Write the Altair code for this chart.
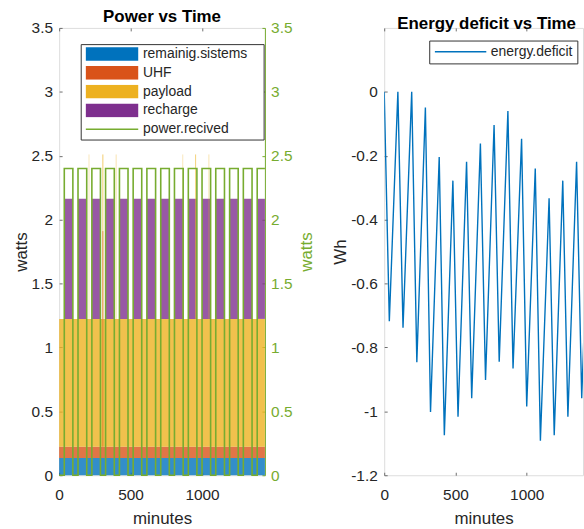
import altair as alt
import pandas as pd

# ---------------- data ----------------
series_names = ["remainig.sistems", "UHF", "payload", "recharge"]
series_watts = [0.135, 0.088, 1.0, 0.94]
series_colors = ["#0072BD", "#D95319", "#EDB120", "#7E2F8E"]

# eclipse intervals (power.recived = 0), minutes
eclipse_start = [0, 96, 193, 289, 386, 482, 578, 675, 771, 868, 964, 1060, 1157, 1253, 1350]
eclipse_end = [36, 132, 229, 325, 422, 518, 614, 711, 807, 904, 1000, 1096, 1193, 1289, 1386]
power_sun = 2.4
power_eclipse = 0.0
t_last = 1440

# short one-minute peaks
payload_peak_t = [209, 306, 399, 865, 955, 1048]
payload_peak_top = [2.51, 2.51, 2.51, 2.51, 2.51, 2.51]
uhf_peak_t = [306]
uhf_peak_top = [1.91]

# energy deficit at eclipse starts (local max) and eclipse ends (local min), Wh
deficit_hi = [0, 0, 0, -0.049, -0.204, -0.278, -0.219, -0.162, -0.104, -0.060, -0.147, -0.240, -0.333, -0.278, -0.219]
deficit_lo = [-0.718, -0.738, -0.846, -1.002, -1.075, -1.017, -0.959, -0.902, -0.845, -0.866, -0.985, -1.092, -1.075, -1.017, -0.959]
deficit_last = -0.27

watts_ticks = [0, 0.5, 1, 1.5, 2, 2.5, 3, 3.5]
wh_ticks = [-1.2, -1, -0.8, -0.6, -0.4, -0.2, 0]
minute_ticks = [0, 500, 1000]

# ---------------- tables ----------------
rows = []
base = 0.0
for name, w in zip(series_names[:3], series_watts[:3]):
    rows.append(dict(series=name, t0=0, t1=t_last, y0=base, y1=base + w))
    base += w
payload_top = base
for a, b in zip(eclipse_end, eclipse_start[1:] + [t_last]):
    rows.append(dict(series=series_names[3], t0=a, t1=b, y0=base, y1=base + series_watts[3]))
rect_df = pd.DataFrame(rows)

pw = []
for s, e in zip(eclipse_start, eclipse_end):
    pw.append(dict(t=s, p=power_eclipse, name="power.recived"))
    pw.append(dict(t=e, p=power_sun, name="power.recived"))
pw.append(dict(t=t_last, p=power_sun, name="power.recived"))
power_df = pd.DataFrame(pw)

peak_alpha = {209: 0.3, 306: 0.65, 399: 0.35, 865: 0.3, 955: 0.6, 1048: 0.35}
pk = []
for t, top in zip(payload_peak_t, payload_peak_top):
    pk.append(dict(t=t, y0=payload_top, y1=top, col="#EDB120", a=peak_alpha[t]))
for t, top in zip(uhf_peak_t, uhf_peak_top):
    pk.append(dict(t=t, y0=series_watts[0] + series_watts[1], y1=top, col="#D95319", a=0.6))
peak_df = pd.DataFrame(pk)

dd = []
for s, e, hi, lo in zip(eclipse_start, eclipse_end, deficit_hi, deficit_lo):
    dd.append(dict(t=s, wh=hi, name="energy.deficit"))
    dd.append(dict(t=e, wh=lo, name="energy.deficit"))
dd.append(dict(t=t_last, wh=deficit_last, name="energy.deficit"))
def_df = pd.DataFrame(dd)

tick_df = pd.DataFrame({"t": minute_ticks})

# ---------------- style ----------------
FONT = "Liberation Sans"
TXT = "#262626"
LINE = "#6e6e6e"
GREEN = "#77AC30"

ax = dict(offset=-3, tickSize=3, domain=False, grid=False, tickColor=LINE, tickWidth=1,
          labelColor=TXT, labelFont=FONT, labelFontSize=15.5, titleFont=FONT,
          titleFontSize=17, titleFontWeight="normal", titleColor=TXT)
top_ax = dict(orient="top", values=minute_ticks, labels=False, title=None,
              offset=-3, tickSize=3, domain=False, grid=False, tickColor=LINE)
bottom_ax = dict(orient="bottom", values=minute_ticks, format="d", labelFlush=False,
                 labelPadding=12, title="minutes", titlePadding=8, **ax)

x1 = alt.Scale(domain=[0, 1440], nice=False, zero=False)
y1 = alt.Scale(domain=[0, 3.5], nice=False, zero=False)

bars = alt.Chart(rect_df).mark_rect(opacity=0.8).encode(
    x=alt.X("t0:Q", scale=x1, axis=alt.Axis(**bottom_ax)),
    x2="t1:Q",
    y=alt.Y("y0:Q", scale=y1, axis=alt.Axis(orient="left", values=watts_ticks, labelExpr="datum.value + ''",
            labelPadding=6.7, title="watts", titlePadding=1, **ax)),
    y2="y1:Q",
    color=alt.Color("series:N",
                    scale=alt.Scale(domain=series_names + ["power.recived"], range=series_colors + ["transparent"]),
                    legend=alt.Legend(orient="none", legendX=21.7, legendY=16.3, direction="vertical",
                                      title="x", titleOrient="right", titleFontSize=1, titleOpacity=0,
                                      titlePadding=12,
                                      padding=3, strokeColor="#333333", fillColor="white",
                                      symbolType="M-1,-0.26H1V0.26H-1Z", symbolSize=2777, symbolStrokeWidth=0,
                                      symbolOpacity=1, symbolOffset=2, clipHeight=14, rowPadding=4.9,
                                      labelFont=FONT, labelFontSize=14, labelColor=TXT, labelOffset=4.6)),
)

peaks = alt.Chart(peak_df).mark_rule(strokeWidth=1).encode(
    x=alt.X("t:Q", scale=x1, axis=None),
    y=alt.Y("y0:Q", scale=y1, axis=alt.Axis(orient="right", values=watts_ticks, labels=False, title=None,
            offset=-3, tickSize=3, domain=False, grid=False, tickColor=GREEN)),
    y2="y1:Q",
    color=alt.Color("col:N", scale=None),
    opacity=alt.Opacity("a:Q", scale=None),
)

top_ticks1 = alt.Chart(tick_df).mark_rule(opacity=0).encode(
    x=alt.X("t:Q", scale=x1, axis=alt.Axis(**top_ax)),
    y=alt.value(0), y2=alt.value(1),
)

power_line = alt.Chart(power_df).mark_line(interpolate="step-after", strokeWidth=1.6).encode(
    x=alt.X("t:Q", scale=x1, axis=None),
    y=alt.Y("p:Q", scale=y1, axis=alt.Axis(orient="right", values=watts_ticks, labelExpr="datum.value + ''",
            ticks=False, tickSize=0, domain=True, domainColor=GREEN, domainWidth=1, grid=False,
            labelColor=GREEN, labelFont=FONT, labelFontSize=15.5, labelPadding=5.7,
            title="watts", titleColor=GREEN, titleFont=FONT, titleFontSize=17, titleFontWeight="normal",
            titleAngle=270, titleBaseline="top", titlePadding=6.8)),
    stroke=alt.Stroke("name:N", scale=alt.Scale(domain=["power.recived"], range=[GREEN]),
                      legend=alt.Legend(orient="none", legendX=25.7, legendY=94.9, title=None, direction="vertical",
                                        padding=0, symbolType="stroke", symbolSize=2777, symbolStrokeWidth=1.6,
                                        symbolOffset=0, clipHeight=14, labelExpr="''")),
)

left = alt.layer(bars, peaks, top_ticks1, power_line).resolve_scale(y="independent").properties(
    width=207, height=450,
    title=alt.TitleParams("Power vs Time", font=FONT, fontSize=17, fontWeight="bold", color="#000000", offset=-5.5),
)

x2 = alt.Scale(domain=[0, 1395], nice=False, zero=False)
y2 = alt.Scale(domain=[-1.2, 0.2], nice=False, zero=False)

deficit = alt.Chart(def_df).mark_line(strokeWidth=1.4, clip=True).encode(
    x=alt.X("t:Q", scale=x2, axis=alt.Axis(**bottom_ax)),
    y=alt.Y("wh:Q", scale=y2, axis=alt.Axis(orient="left", values=wh_ticks, labelExpr="datum.value + ''",
            labelPadding=7, title="Wh", titlePadding=1, **ax)),
    color=alt.Color("name:N", scale=alt.Scale(domain=["energy.deficit"], range=["#0072BD"]),
                    legend=alt.Legend(orient="none", legendX=45.3, legendY=12.7, title=None, direction="vertical",
                                      padding=4, strokeColor="#333333", fillColor="white",
                                      symbolType="stroke", symbolSize=2673, symbolStrokeWidth=1.5,
                                      symbolOffset=0.55, clipHeight=14.6,
                                      labelFont=FONT, labelFontSize=14, labelColor=TXT, labelOffset=3.4)),
)
top_ticks2 = alt.Chart(tick_df).mark_rule(opacity=0).encode(
    x=alt.X("t:Q", scale=x2, axis=alt.Axis(**top_ax)),
    y=alt.value(0), y2=alt.value(1),
)

right = alt.layer(deficit, top_ticks2).properties(
    width=200, height=450,
    title=alt.TitleParams("Energy deficit vs Time", font=FONT, fontSize=17, fontWeight="bold", color="#000000",
                          offset=-5.5, dx=3),
)

chart = alt.hconcat(left, right, spacing=15).resolve_scale(color="independent").properties(
    padding={"left": 11.5, "top": 6.5, "right": 0, "bottom": 0}
).configure_view(stroke=LINE, strokeWidth=1).configure(font=FONT, background="white")

chart.save("out.html", embed_options={"renderer": "svg", "actions": False})
